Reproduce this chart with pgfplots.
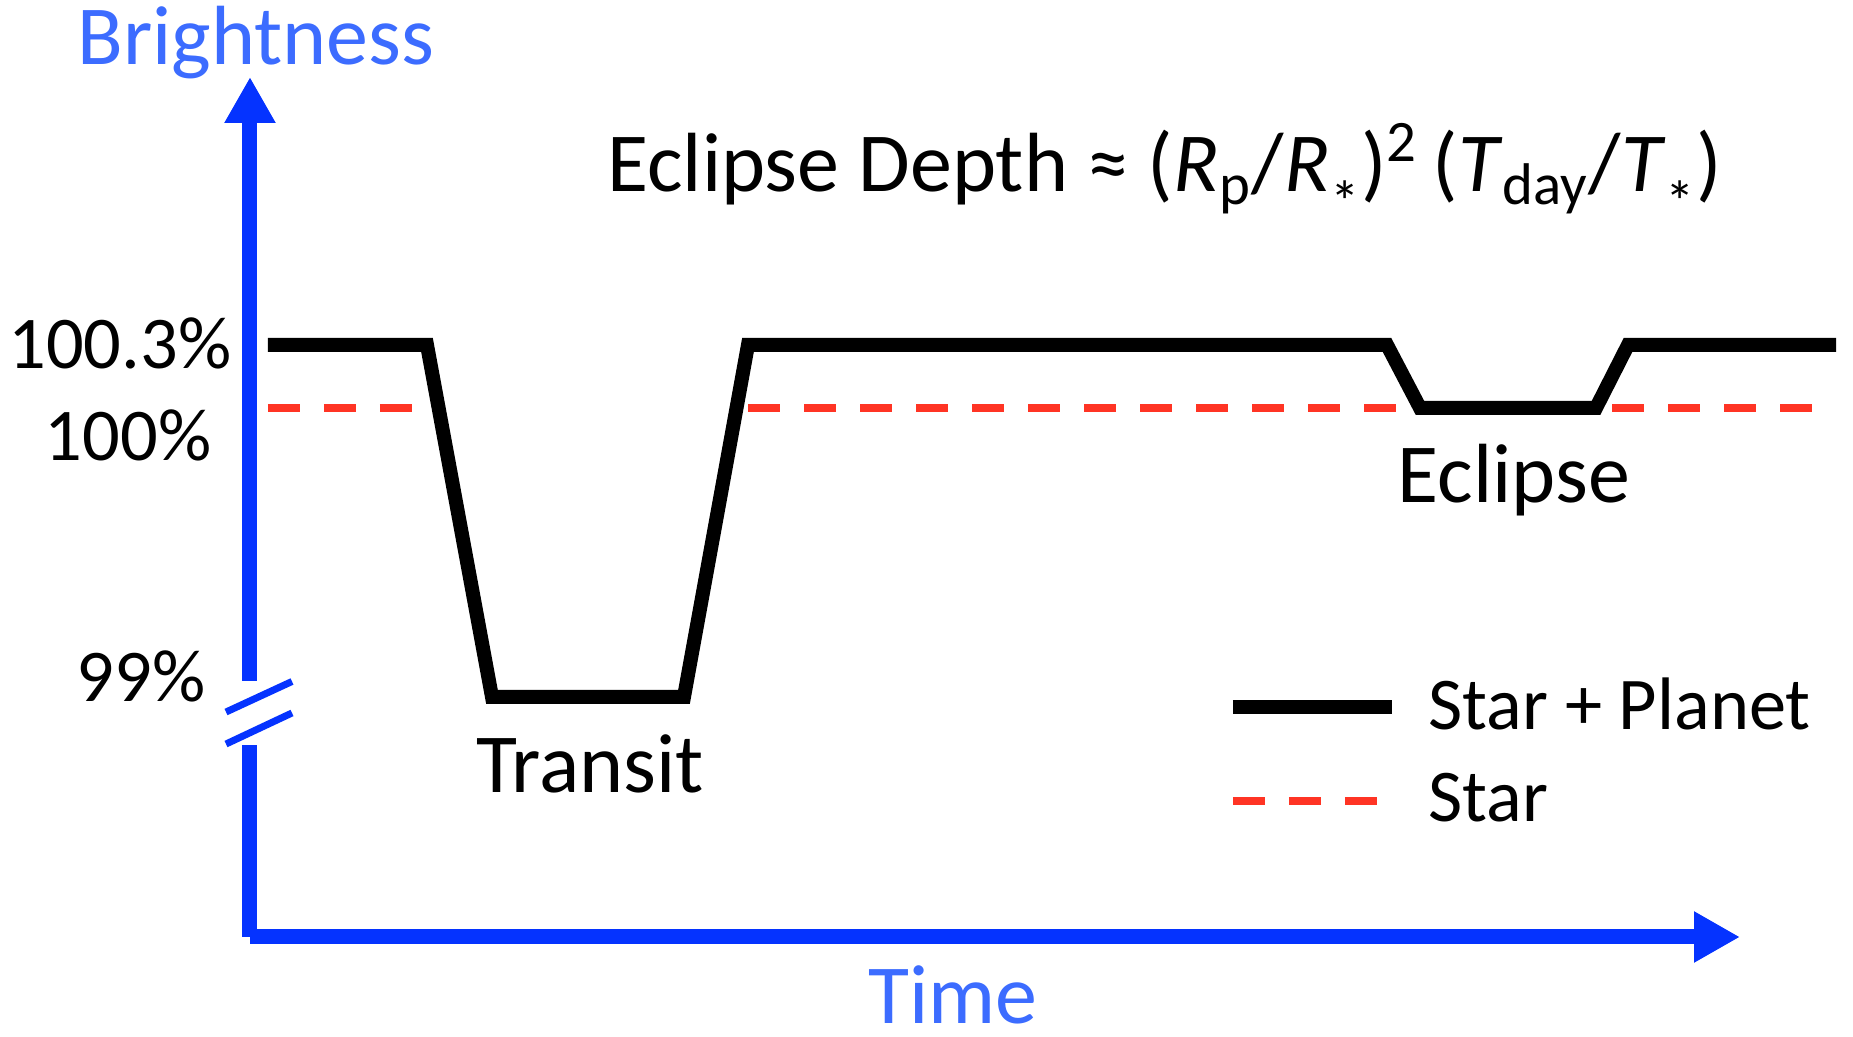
\documentclass[border=0pt]{standalone}
\usepackage{pgfplots}
\pgfplotsset{compat=1.18}
\usetikzlibrary{arrows.meta}
\usepackage{fontspec}
\setmainfont{Carlito}
\definecolor{axisblue}{HTML}{0533FF}
\definecolor{textblue}{HTML}{3C6CFF}
\definecolor{starred}{HTML}{FF3424}
\newcommand{\bigfont}{\fontsize{21}{25}\selectfont}
\newcommand{\smallfont}{\fontsize{18.6}{22}\selectfont}
\newcommand{\subast}{\textsubscript{\raisebox{-0.3em}{*}}}
\begin{document}
\begin{tikzpicture}
\begin{axis}[
  name=ax,
  set layers,
  scale only axis,
  width=372.5pt, height=215pt,
  xmin=250, xmax=1740,
  ymin=98.1693, ymax=101.5762,
  y coord trafo/.code={\pgfmathparse{#1>=100 ? #1 : 100-(100-#1)*1.3762}},
  y coord inv trafo/.code={\pgfmathparse{#1>=100 ? #1 : 100-(100-#1)/1.3762}},
  axis lines*=left,
  axis line style={draw=axisblue, fill=axisblue, line width=3.75pt, -{Triangle[width=12pt,length=11.5pt]}},
  xtick=\empty,
  ytick={99,100,100.3},
  yticklabels={{\raisebox{5.25pt}[\height][\depth]{99\%\hspace{1.5pt}}},
               {\raisebox{-6.75pt}[\height][\depth]{100\%}},
               {\raisebox{0.5pt}[\height][\depth]{100.3\%\hspace{-5pt}}}},
  major tick length=0pt,
  ytick style={draw=none},
  yticklabel style={anchor=east, inner sep=0pt, xshift=-9.5pt, font=\smallfont, text=black},
  clip=false,
  legend style={at={(0.6550,0.3012)}, anchor=north west, draw=none, fill=none,
    inner sep=0pt, outer sep=0pt, row sep=9.5pt, column sep=7.4pt,
    font=\smallfont, nodes={inner sep=0pt}},
  legend cell align=left,
  legend image code/.code={\draw[#1] (0pt,0pt) -- (39.75pt,0pt);},
]
% Star + Planet light curve (brightness in %)
\addplot[black, line width=3.5pt] coordinates {
  (268,100.3) (427,100.3) (492,99) (684,99) (748,100.3)
  (1387,100.3) (1420,100) (1596,100) (1628,100.3) (1836,100.3)};
\addlegendentry{Star + Planet}
% Star alone (100%)
\addplot[starred, line width=2pt, dash pattern=on 8pt off 6pt] coordinates {(268,100) (412,100)};
\addlegendentry{Star}
\addplot[starred, line width=2pt, dash pattern=on 8pt off 6pt, forget plot] coordinates {(748,100) (1396,100)};
\addplot[starred, line width=2pt, dash pattern=on 8pt off 6pt, forget plot] coordinates {(1612,100) (1812,100)};

\node[anchor=base, inner sep=0pt, text=textblue, font=\bigfont] at (rel axis cs:0.004,1.0140) {Brightness};
\node[anchor=base, inner sep=0pt, text=textblue, font=\bigfont] at (rel axis cs:0.4718,-0.1000) {Time};
\node[anchor=base, inner sep=0pt, font=\bigfont] at (rel axis cs:0.2282,0.1686) {Transit};
\node[anchor=base, inner sep=0pt, font=\bigfont] at (rel axis cs:0.8483,0.5047) {Eclipse};
\node[anchor=base west, inner sep=0pt, font=\bigfont] at (rel axis cs:0.2393,0.8663)
  {Eclipse Depth ≈ (\textit{R}\textsubscript{p}/\textit{R}\subast)\textsuperscript{2}\,(\textit{T}\textsubscript{day}/\textit{T}\subast)};

\begin{pgfonlayer}{axis foreground}
\fill[white] (rel axis cs:-0.01,0.2233) rectangle (rel axis cs:0.01,0.2977);
\draw[axisblue, line width=1.75pt] (rel axis cs:-0.0161,0.2616) -- (rel axis cs:0.0282,0.2971);
\draw[axisblue, line width=1.75pt] (rel axis cs:-0.0161,0.2244) -- (rel axis cs:0.0282,0.2605);
\end{pgfonlayer}
\end{axis}
\pgfresetboundingbox
\path (ax.south west) ++(-62.5pt,-25pt) rectangle ++(463.25pt,259.25pt);
\end{tikzpicture}
\end{document}
